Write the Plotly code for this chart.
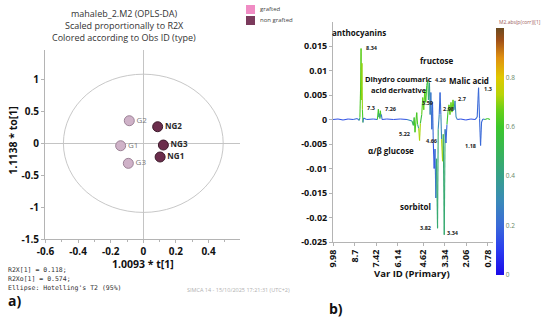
import plotly.graph_objects as go
from plotly.colors import sample_colorscale

# ---------------- data: left panel (OPLS-DA scores) ----------------
obs_names = ["G1", "G2", "G3", "NG1", "NG2", "NG3"]
obs_type = ["grafted", "grafted", "grafted", "non grafted", "non grafted", "non grafted"]
t1 = [-0.139, -0.086, -0.092, 0.103, 0.088, 0.123]
to1 = [-0.038, 0.353, -0.313, -0.214, 0.259, -0.027]
ellipse_t1 = 0.49      # Hotelling's T2 (95%) semi-axis in t[1]
ellipse_to1 = 1.08     # semi-axis in to[1]
left_xticks = [-0.6, -0.4, -0.2, 0, 0.2, 0.4]
left_yticks = [-1.5, -1, -0.5, 0, 0.5, 1]

# ---------------- data: right panel (S-line loadings) ----------------
ppm = [10.00, 9.70, 9.40, 9.10, 8.80, 8.55, 8.44, 8.40, 8.36, 8.33, 8.31, 8.28, 8.25, 8.22, 8.18,
       8.00, 7.60, 7.36, 7.30, 7.27, 7.24, 7.21, 7.18, 7.15, 7.12, 7.08, 6.80, 6.40, 6.00, 5.60,
       5.30, 5.22, 5.17, 5.12, 5.07, 5.02, 4.97, 4.90, 4.85, 4.80, 4.72, 4.66, 4.60, 4.54, 4.48,
       4.42, 4.36, 4.32, 4.26, 4.22, 4.18, 4.12, 4.08, 4.03, 3.98, 3.93, 3.88, 3.84, 3.78, 3.74,
       3.68, 3.63, 3.58, 3.54, 3.48, 3.44, 3.38, 3.33, 3.28, 3.22, 3.16, 3.10, 3.04, 2.98, 2.92,
       2.86, 2.80, 2.74, 2.68, 2.60, 2.40, 2.10, 1.80, 1.55, 1.42, 1.34, 1.28, 1.22, 1.16, 1.08,
       0.95, 0.80, 0.66]
loading = [0.0000, 0.0001, -0.0001, 0.0001, 0.0000, 0.0002, -0.0002, 0.0004, 0.0060, 0.0145,
           0.0040, 0.0115, 0.0020, -0.0006, 0.0003, 0.0000, 0.0001, 0.0000, 0.0021, 0.0005,
           0.0012, 0.0002, 0.0018, 0.0006, 0.0010, 0.0000, 0.0001, 0.0000, 0.0001, 0.0000,
           -0.0003, -0.0012, 0.0004, -0.0026, -0.0005, 0.0014, -0.0010, -0.0018, -0.0043, -0.0008,
           0.0010, 0.0045, 0.0020, 0.0060, 0.0035, 0.0070, 0.0080, 0.0040, 0.0075, 0.0010,
           0.0055, -0.0020, 0.0035, -0.0050, -0.0100, -0.0060, -0.0160, -0.0080, -0.0222, -0.0020,
           0.0010, 0.0055, 0.0010, -0.0040, -0.0085, -0.0030, -0.0235, -0.0020, -0.0048, -0.0010,
           0.0015, 0.0030, 0.0010, 0.0035, 0.0015, 0.0040, 0.0020, 0.0038, 0.0005, 0.0000,
           0.0001, -0.0001, 0.0001, 0.0000, 0.0005, 0.0065, 0.0002, -0.0053, -0.0005, 0.0001,
           0.0000, 0.0002, 0.0000]
corr = [0.15, 0.15, 0.15, 0.15, 0.15, 0.20, 0.20, 0.45, 0.62, 0.65, 0.62, 0.70, 0.62, 0.25, 0.20,
        0.15, 0.15, 0.20, 0.60, 0.50, 0.30, 0.30, 0.62, 0.55, 0.25, 0.20, 0.15, 0.15, 0.15, 0.15,
        0.30, 0.50, 0.50, 0.62, 0.55, 0.62, 0.55, 0.40, 0.72, 0.60, 0.55, 0.65, 0.60, 0.66, 0.55,
        0.60, 0.55, 0.55, 0.40, 0.30, 0.25, 0.20, 0.20, 0.20, 0.15, 0.20, 0.25, 0.30, 0.45, 0.30,
        0.20, 0.20, 0.25, 0.30, 0.72, 0.60, 0.45, 0.30, 0.20, 0.25, 0.60, 0.65, 0.60, 0.66, 0.30,
        0.66, 0.60, 0.30, 0.30, 0.20, 0.15, 0.15, 0.15, 0.20, 0.20, 0.20, 0.20, 0.20, 0.20, 0.30,
        0.50, 0.60, 0.60]
right_xticks = [9.98, 8.7, 7.42, 6.14, 4.62, 3.34, 2.06, 0.78]
right_yticks = [-0.025, -0.02, -0.015, -0.01, -0.005, 0, 0.005, 0.01, 0.015]
cbar_ticks = [0, 0.2, 0.4, 0.6, 0.8]

# ---------------- styling ----------------
W, H = 550, 321
FONT = "Open Sans"
MONO = "DejaVu Sans Mono"
AXIS_GRAY = "#b4b4b4"
type_fill = {"grafted": "#cfb2c8", "non grafted": "#6b2d4c"}
type_line = {"grafted": "#9c8296", "non grafted": "#3d1a2b"}
legend_col = {"grafted": "#f08cc4", "non grafted": "#7b3a5c"}
simca_scale = [[0.0, "#1a0ae8"], [0.1, "#2a3cf0"], [0.2, "#3a6ad8"], [0.3, "#3a8ab8"],
               [0.4, "#36a08a"], [0.5, "#38b458"], [0.6, "#3cc82a"], [0.67, "#6ad018"],
               [0.73, "#b8d408"], [0.8, "#e0c800"], [0.88, "#e09010"], [0.95, "#a05018"],
               [1.0, "#6a4a20"]]


def px(x):
    return x / W


def py(y):
    return 1 - y / H


fig = go.Figure()

# ---- left: score points ----
for typ in ["grafted", "non grafted"]:
    idx = [i for i, t in enumerate(obs_type) if t == typ]
    fig.add_trace(go.Scatter(
        x=[t1[i] for i in idx], y=[to1[i] for i in idx],
        text=[obs_names[i] for i in idx], mode="markers+text", textposition="middle right",
        marker=dict(size=10, color=type_fill[typ], line=dict(color=type_line[typ], width=1)),
        textfont=dict(family=FONT, size=8, color="#7a7a7a" if typ == "grafted" else "#2a2a2a",
                      weight="normal" if typ == "grafted" else "bold"),
        xaxis="x", yaxis="y", showlegend=False, name=typ, cliponaxis=False))

# ---- right: spectrum segments coloured by abs(p(corr)) ----
for i in range(len(ppm) - 1):
    c = corr[i] if abs(loading[i]) >= abs(loading[i + 1]) else corr[i + 1]
    col = sample_colorscale(simca_scale, [c])[0]
    fig.add_trace(go.Scatter(x=[ppm[i], ppm[i + 1]], y=[loading[i], loading[i + 1]], mode="lines",
                             line=dict(color=col, width=1.1), xaxis="x2", yaxis="y2",
                             showlegend=False, hoverinfo="skip"))

fig.add_trace(go.Scatter(
    x=ppm, y=loading, mode="markers", xaxis="x2", yaxis="y2", showlegend=False,
    marker=dict(size=1, opacity=0, color=corr, colorscale=simca_scale, cmin=0, cmax=1,
                showscale=True,
                colorbar=dict(x=px(496), xanchor="left", y=py(151.5), yanchor="middle",
                              len=247 / H, lenmode="fraction", thickness=8, outlinewidth=0,
                              tickvals=cbar_ticks, ticks="", ticklabelposition="outside",
                              tickfont=dict(family=FONT, size=6.5, color="#6a8a6a"),
                              xpad=0, ypad=0))))

shapes = [
    dict(type="circle", xref="x", yref="y", x0=-ellipse_t1, x1=ellipse_t1, y0=-ellipse_to1,
         y1=ellipse_to1, line=dict(color="#c8c8c8", width=1), layer="below"),
]
# legend squares
for typ, y0 in [("grafted", 5), ("non grafted", 16)]:
    shapes.append(dict(type="rect", xref="paper", yref="paper", x0=px(246), x1=px(255),
                       y0=py(y0 + 9), y1=py(y0), fillcolor=legend_col[typ], line=dict(width=0)))

annotations = []


def ann(text, x, y, size, color="#222", bold=False, family=FONT, xanchor="center", angle=0):
    annotations.append(dict(text=text, x=px(x), y=py(y), xref="paper", yref="paper",
                            showarrow=False, xanchor=xanchor, yanchor="middle", textangle=angle,
                            font=dict(family=family, size=size, color=color,
                                      weight="bold" if bold else "normal")))


# left texts
ann("mahaleb_2.M2 (OPLS-DA)", 124, 13, 9, "#333")
ann("Scaled proportionally to R2X", 124, 25, 9, "#333")
ann("Colored according to Obs ID (type)", 124, 37, 9, "#333")
ann("grafted", 258, 9.5, 6, "#444", xanchor="left")
ann("non grafted", 258, 20.5, 6, "#444", xanchor="left")
ann("1.0093 * t[1]", 143, 264, 10.5, "#111", bold=True)
ann("1.1138 * to[1]", 12.5, 141, 10.5, "#111", bold=True, angle=-90)
ann("R2X[1] = 0.118;", 6, 270, 6.5, "#333", family=MONO, xanchor="left")
ann("R2Xo[1] = 0.574;", 6, 279, 6.5, "#333", family=MONO, xanchor="left")
ann("Ellipse: Hotelling's T2 (95%)", 6, 288, 6.5, "#333", family=MONO, xanchor="left")
ann("SIMCA 14 - 15/10/2025 17:21:31 (UTC+2)", 185, 290, 5.5, "#b0b0b0", xanchor="left")
ann("a)", 14, 300, 14, "#111", bold=True)

# right texts
ann("anthocyanins", 358.5, 32, 8, "#111", bold=True)
ann("8.34", 372, 48, 5.5, "#222", bold=True)
ann("fructose", 437, 60, 8, "#111", bold=True)
ann("Dihydro coumaric", 398, 79, 7.5, "#111", bold=True)
ann("acid derivative", 399, 90, 7.5, "#111", bold=True)
ann("4.26", 440, 80, 5.5, "#222", bold=True)
ann("Malic acid", 469, 81, 8, "#111", bold=True)
ann("1.3", 488, 89, 5.5, "#222", bold=True)
ann("2.7", 462, 99, 5.5, "#222", bold=True)
ann("3.59", 427.5, 103, 5.5, "#222", bold=True)
ann("2.98", 448.5, 109, 5.5, "#222", bold=True)
ann("7.3", 370.5, 108, 5.5, "#222", bold=True)
ann("7.26", 390, 109, 5.5, "#222", bold=True)
ann("5.22", 404, 134, 5.5, "#222", bold=True)
ann("4.66", 431, 141, 5.5, "#222", bold=True)
ann("1.18", 470, 146, 5.5, "#222", bold=True)
ann("α/β glucose", 391, 150, 8, "#111", bold=True)
ann("sorbitol", 415.5, 206, 8, "#111", bold=True)
ann("3.82", 425, 228, 5.5, "#222", bold=True)
ann("3.34", 453, 233, 5.5, "#222", bold=True)
ann("Var ID (Primary)", 412, 273, 9.5, "#111", bold=True)
ann("b)", 336, 308, 14, "#111", bold=True)
ann("M2.abs(p(corr))[1]", 497, 22, 5, "#a06060", xanchor="left")

axis_common = dict(showgrid=False, showline=True, linecolor=AXIS_GRAY, linewidth=1,
                   ticks="outside", ticklen=3, tickcolor=AXIS_GRAY, automargin=False,
                   tickfont=dict(family=FONT, size=10, color="#111", weight="bold"))
small_tick = dict(family=FONT, size=9, color="#111", weight="bold")

fig.update_layout(
    width=W, height=H, margin=dict(l=0, r=0, t=0, b=0, autoexpand=False), paper_bgcolor="white",
    plot_bgcolor="white", showlegend=False, shapes=shapes, annotations=annotations,
    xaxis=dict(domain=[px(45), px(240)], range=[-0.603, 0.593], tickvals=left_xticks,
               ticktext=[f"{v:g}" for v in left_xticks], zeroline=True, zerolinecolor="#c4c4c4",
               zerolinewidth=1, anchor="y",
               minor=dict(dtick=0.1, ticks="outside", ticklen=2, tickcolor=AXIS_GRAY),
               **axis_common),
    yaxis=dict(domain=[py(239.3), py(50)], range=[-1.5, 1.458], tickvals=left_yticks,
               ticktext=[f"{v:g}" for v in left_yticks], zeroline=True, zerolinecolor="#c4c4c4",
               zerolinewidth=1, anchor="x", **axis_common),
    xaxis2=dict(domain=[px(333), px(493)], range=[10.0, 0.48], tickvals=right_xticks,
                ticktext=[f"{v:g}" for v in right_xticks], tickangle=-90, zeroline=False,
                anchor="y2", **{**axis_common, "tickfont": small_tick}),
    yaxis2=dict(domain=[py(242), py(22)], range=[-0.025, 0.0199], tickvals=right_yticks,
                ticktext=[f"{v:g}" for v in right_yticks], zeroline=False, anchor="x2",
                **{**axis_common, "tickfont": small_tick}),
)

fig.write_html("out.html", config={"displayModeBar": False},
               post_script="document.body.style.margin='0px';")
